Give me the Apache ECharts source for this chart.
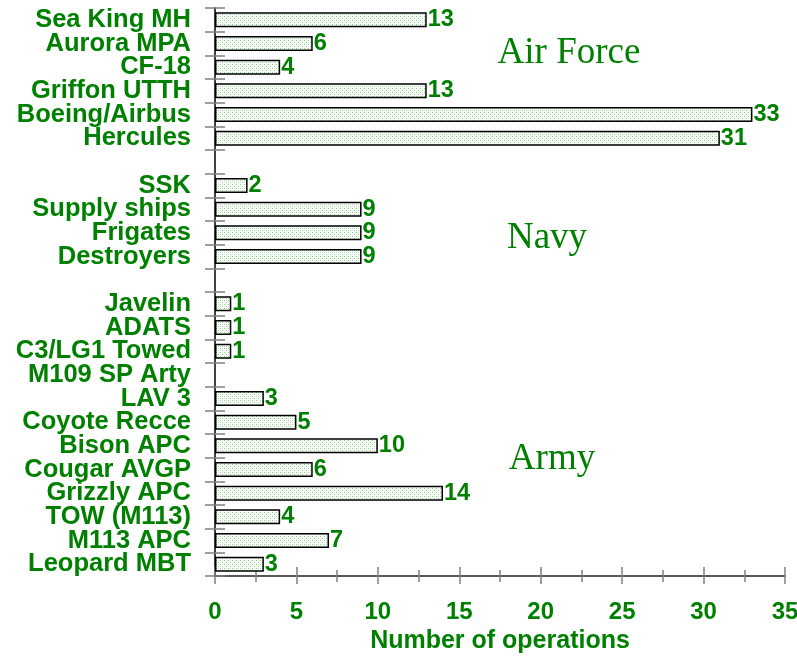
<!DOCTYPE html>
<html>
<head>
<meta charset="utf-8">
<script src="https://cdn.jsdelivr.net/npm/echarts@6/dist/echarts.min.js"></script>
<style>
html,body{margin:0;padding:0;background:#fff;}
#chart{width:797px;height:659px;}
</style>
</head>
<body>
<div id="chart"></div>
<script>
// bottom to top, blank slots separate the groups
var categories = ['Leopard MBT','M113 APC','TOW (M113)','Grizzly APC','Cougar AVGP','Bison APC','Coyote Recce','LAV 3','M109 SP Arty','C3/LG1 Towed','ADATS','Javelin',' ','Destroyers','Frigates','Supply ships','SSK','  ','Hercules','Boeing/Airbus','Griffon UTTH','CF-18','Aurora MPA','Sea King MH'];
var operations = [3,7,4,14,6,10,5,3,null,1,1,1,null,9,9,9,2,null,31,33,13,4,6,13];
var xTicks = [0,5,10,15,20,25,30,35];
var groupNames = ['Air Force','Navy','Army'];

var green = '#008000';
var font = '"Liberation Sans", Arial, sans-serif';

// dotted hatch for the bars
var cv = document.createElement('canvas');
cv.width = 4; cv.height = 4;
var cx = cv.getContext('2d');
cx.fillStyle = '#fff';
cx.fillRect(0,0,4,4);
cx.fillStyle = '#8fd08f';
[[0,0],[2,2]].forEach(function(p){ cx.fillRect(p[0],p[1],1,1); });
cx.fillStyle = '#d2ecd2';
[[2,0],[0,2]].forEach(function(p){ cx.fillRect(p[0],p[1],1,1); });

var myChart = echarts.init(document.getElementById('chart'));
var tickGray = '#808080';

var option = {
    animation: false,
    grid: { left: 215, right: 12, top: 8, bottom: 83, outerBoundsMode: 'none', containLabel: false },
    xAxis: [
        {
            type: 'value', min: xTicks[0], max: xTicks[xTicks.length-1], interval: 5,
            axisLine: { show: true, lineStyle: { color: '#222', width: 1.5 } },
            axisTick: { show: true, length: 8, lineStyle: { color: tickGray, width: 1.5 } },
            minorTick: { show: true, splitNumber: 2, length: 6, lineStyle: { color: tickGray, width: 1.5 } },
            splitLine: { show: false },
            axisLabel: { color: green, fontWeight: 'bold', fontSize: 24, fontFamily: font, margin: 24 },
            name: 'Number of operations', nameLocation: 'middle', nameGap: 53,
            nameTextStyle: { color: green, fontWeight: 'bold', fontSize: 25, fontFamily: font }
        },
        {
            type: 'value', min: 0, max: 35, interval: 5, position: 'bottom',
            axisLine: { show: false },
            axisTick: { show: true, inside: true, length: 9, lineStyle: { color: tickGray, width: 1.5 } },
            minorTick: { show: true, splitNumber: 2, length: 6, lineStyle: { color: tickGray, width: 1.5 } },
            splitLine: { show: false },
            axisLabel: { show: false }
        }
    ],
    yAxis: [
        {
            type: 'category', data: categories,
            axisLine: { show: true, lineStyle: { color: '#000', width: 1.5 } },
            axisTick: { show: true, length: 10, lineStyle: { color: tickGray, width: 1.5 } },
            axisLabel: { interval: 0, color: green, fontWeight: 'bold', fontSize: 25.5, fontFamily: font, margin: 24 }
        },
        {
            type: 'category', data: categories, position: 'left',
            axisLine: { show: false },
            axisTick: { show: true, inside: true, length: 10, lineStyle: { color: tickGray, width: 1.5 } },
            axisLabel: { show: false }
        }
    ],
    graphic: [
        { type: 'text', x: 569, y: 53, style: { text: groupNames[0], fill: green, font: '37px "Liberation Serif", "Times New Roman", serif', align: 'center', verticalAlign: 'middle' } },
        { type: 'text', x: 547, y: 238, style: { text: groupNames[1], fill: green, font: '37px "Liberation Serif", "Times New Roman", serif', align: 'center', verticalAlign: 'middle' } },
        { type: 'text', x: 552, y: 459, style: { text: groupNames[2], fill: green, font: '37px "Liberation Serif", "Times New Roman", serif', align: 'center', verticalAlign: 'middle' } }
    ],
    series: [
        {
            name: 'Operations',
            type: 'bar',
            barWidth: 15,
            data: operations,
            itemStyle: {
                color: { image: cv, repeat: 'repeat' },
                borderColor: '#000',
                borderWidth: 1.5
            },
            label: {
                show: true, position: 'right', distance: 1,
                color: green, fontWeight: 'bold', fontSize: 23.5, fontFamily: font
            }
        }
    ]
};
myChart.setOption(option);
</script>
</body>
</html>
